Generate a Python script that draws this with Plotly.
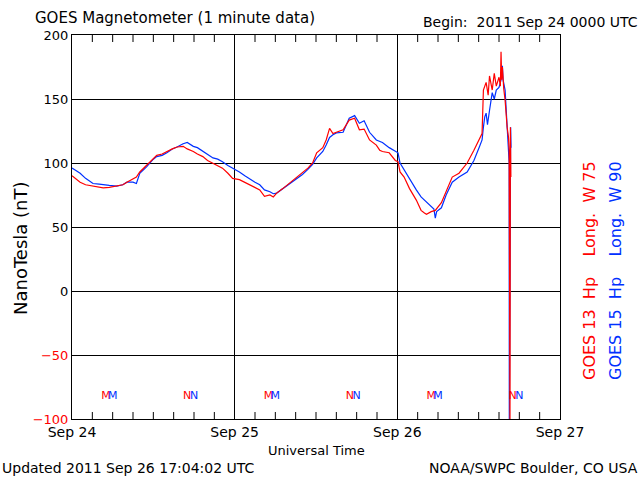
import plotly.graph_objects as go
import pandas as pd

# Hours since 2011 Sep 24 00:00 UT
g13_hours = [0, 0.5, 1.2, 2, 3, 4, 4.6, 5.5, 6.6, 7.5, 8.1, 9, 9.5, 10, 11, 12, 12.5, 13.3, 14, 14.8,
             15.5, 16.4, 17, 17.9, 18.5, 19.3, 20, 20.8, 21.5, 22.2, 23, 23.7, 24.7, 25.5, 26.2, 27, 27.7,
             28.4, 29.2, 29.7, 30.2, 31.1, 31.8, 32.5, 33.3, 34, 34.8, 35.5, 36.1, 37, 37.5, 38, 38.5, 39,
             40, 40.9, 41.7, 42.4, 43.1, 43.9, 44.9, 45.4, 45.8, 46.8, 47.7, 48.1, 48.4, 49, 49.8, 50.8,
             51.5, 52, 52.3, 53, 53.6, 54.5, 55.2, 56.1, 57.1, 58.3, 59.3, 60.1, 60.5, 60.7, 61.1, 61.4,
             61.6, 62, 62.3, 62.6, 63, 63.2, 63.3, 63.4, 63.5, 63.7, 63.9, 64.2, 64.4, 64.5, 64.55, 64.62,
             64.68, 64.75]
g13_values = [90, 88, 85, 83, 82, 81, 80.5, 81, 82, 83, 85, 87.5, 89, 93, 98.5, 104, 106, 107, 109, 111,
              112.5, 113, 111, 109, 107, 105, 102, 100, 98, 96, 92, 88, 87, 85, 83, 81, 79,
              74, 75, 73.5, 76.5, 80, 83, 86, 89, 92, 96, 100, 108, 112, 118, 127, 123, 124,
              126, 133.5, 135, 126, 126.5, 118, 114, 110, 109, 108, 102, 101, 93, 89, 80, 71,
              63, 61, 60, 62, 63, 69, 77.5, 89, 92, 100, 110, 118, 123, 157, 163, 153,
              168, 157, 170, 160, 167, 160, 187, 165, 175, 158, 149, 128, 120, 110, -105, -105,
              128, 89]

g15_hours = [0, 0.6, 1.2, 2, 3.1, 4, 4.6, 5.5, 6.6, 7.5, 8.1, 9, 9.5, 10, 11, 12, 12.5, 13.3, 14, 14.8,
             15.5, 16.4, 17, 17.9, 18.5, 19.3, 20, 20.8, 21.5, 22.2, 23, 23.7, 24.3, 24.7, 25.5, 26.2,
             27, 27.7, 28.4, 29.2, 29.7, 30.2, 31.1, 31.8, 32.5, 33.3, 34, 34.8, 35.5, 36.1, 37, 37.5,
             38, 38.5, 39, 40, 40.9, 41.7, 42.4, 43.1, 43.5, 43.9, 44.9, 45.4, 45.8, 46.8, 47.9, 48.1,
             48.4, 49, 49.8, 50.8, 51.5, 52.3, 53, 53.4, 53.6, 53.8, 54.5, 55.2, 56.1, 57.1, 58.3, 59.3,
             60.1, 60.5, 60.7, 60.9, 61.1, 61.3, 61.6, 62, 62.3, 62.6, 63, 63.3, 63.5, 63.6, 63.9, 64.2,
             64.4, 64.5, 64.52, 64.6, 64.65, 64.72, 64.78]
g15_values = [96, 94, 92, 88, 84, 83.5, 83, 82.5, 82, 83, 85, 85, 84, 92, 97, 103, 105, 106, 108, 111,
              112.5, 115, 116, 113, 112, 109, 107, 104, 103, 101, 98, 96, 94, 93, 90, 87.5,
              85, 83, 79, 77.5, 76, 76.5, 80, 82, 85, 88, 91, 95, 99, 104, 109, 114,
              120, 122, 123.5, 124, 135, 137, 131, 133, 128, 124, 118, 117, 116, 112, 109, 108,
              100, 94.5, 87, 79, 73.5, 69.5, 66, 64, 57, 62, 65, 75, 85, 89, 93, 102,
              112.5, 118, 128, 136, 139, 130, 141, 155, 150, 157, 159, 165, 176, 165, 157, 131,
              112, 100, -108, 73, 46, 128, 112]

# local midnight (M) / noon (N) markers
g13_marker_hours = [5, 17, 29, 41, 53, 65]
g13_marker_text = ["M", "N", "M", "N", "M", "N"]
g15_marker_hours = [6, 18, 30, 42, 54, 66]
g15_marker_text = ["M", "N", "M", "N", "M", "N"]
marker_level = -82

# 3-hourly minor tick positions (hours since start)
minor_tick_hours = [3, 6, 9, 12, 15, 18, 21, 27, 30, 33, 36, 39, 42, 45, 51, 54, 57, 60, 63, 66, 69]

Y_MIN, Y_MAX = -100, 200
y_tick_vals = [-100, -50, 0, 50, 100, 150, 200]
y_tick_text = ['<span style="color:#ff0000">−100</span>', '<span style="color:#ff0000">−50</span>',
               "0", "50", "100", "150", "200"]

start = pd.Timestamp("2011-09-24 00:00")
end = pd.Timestamp("2011-09-27 00:00")


def to_time(hours):
    return list(start + pd.to_timedelta(hours, unit="h"))


RED = "#ff0000"
BLUE = "#0030ff"
FONT = "DejaVu Sans"

fig = go.Figure()
fig.add_trace(go.Scatter(x=to_time(g15_hours), y=g15_values, mode="lines",
                         line=dict(color=BLUE, width=1.2), showlegend=False))
fig.add_trace(go.Scatter(x=to_time(g13_hours), y=g13_values, mode="lines",
                         line=dict(color=RED, width=1.2), showlegend=False))
fig.add_trace(go.Scatter(x=to_time(g13_marker_hours), y=[marker_level] * len(g13_marker_hours), mode="text",
                         text=g13_marker_text, textfont=dict(color=RED, size=11, family=FONT),
                         showlegend=False))
fig.add_trace(go.Scatter(x=to_time(g15_marker_hours), y=[marker_level] * len(g15_marker_hours), mode="text",
                         text=g15_marker_text, textfont=dict(color=BLUE, size=11, family=FONT),
                         showlegend=False))
# inward tick marks on bottom and top frame (half of each mark is clipped by the plot area)
for edge in (Y_MIN, Y_MAX):
    fig.add_trace(go.Scatter(x=to_time(minor_tick_hours), y=[edge] * len(minor_tick_hours), mode="markers",
                             marker=dict(symbol="line-ns", size=10, line=dict(color="black", width=1)),
                             showlegend=False, hoverinfo="skip"))

L, R, T, B = 72, 80, 35, 61
PW, PH = 640 - L - R, 480 - T - B


def px(x):
    return (x - L) / PW


def py(y):
    return (480 - B - y) / PH


fig.update_layout(
    width=640, height=480,
    margin=dict(l=L, r=R, t=T, b=B),
    plot_bgcolor="white", paper_bgcolor="white",
    font=dict(family=FONT, size=14),
    xaxis=dict(type="date", range=[start, end], tickmode="linear", tick0=start, dtick=86400000,
               tickformat="%b %d",
               showgrid=True, gridcolor="black", gridwidth=1,
               showline=True, linecolor="black", mirror=True,
               ticks="", tickfont=dict(size=14, color="black")),
    yaxis=dict(range=[Y_MIN, Y_MAX], tickvals=y_tick_vals, ticktext=y_tick_text,
               showgrid=True, gridcolor="black", gridwidth=1,
               showline=True, linecolor="black", mirror=True,
               ticks="", tickfont=dict(size=13, color="black"), zeroline=False),
    annotations=[
        dict(text="GOES Magnetometer (1 minute data)", x=px(33), y=py(18), xref="paper", yref="paper",
             xanchor="left", yanchor="middle", showarrow=False, font=dict(size=15, color="black")),
        dict(text="Begin:  2011 Sep 24 0000 UTC", x=px(640), y=py(22), xref="paper", yref="paper",
             xanchor="right", yanchor="middle", showarrow=False, font=dict(size=14, color="black")),
        dict(text="Universal Time", x=px(316), y=py(450), xref="paper", yref="paper",
             xanchor="center", yanchor="middle", showarrow=False, font=dict(size=13, color="black")),
        dict(text="Updated 2011 Sep 26 17:04:02 UTC", x=px(0), y=py(468), xref="paper", yref="paper",
             xanchor="left", yanchor="middle", showarrow=False, font=dict(size=14, color="black")),
        dict(text="NOAA/SWPC Boulder, CO USA", x=px(640), y=py(468), xref="paper", yref="paper",
             xanchor="right", yanchor="middle", showarrow=False, font=dict(size=14, color="black")),
        dict(text="NanoTesla (nT)", x=px(20), y=py(248), xref="paper", yref="paper",
             xanchor="center", yanchor="middle", showarrow=False, textangle=-90,
             font=dict(size=18, color="black")),
        dict(text="GOES 13\u00a0 Hp\u00a0\u00a0\u00a0 Long.\u00a0 W 75", x=px(589), y=py(271), xref="paper",
             yref="paper", xanchor="center", yanchor="middle", showarrow=False, textangle=-90,
             font=dict(size=16, color=RED)),
        dict(text="GOES 15\u00a0 Hp\u00a0\u00a0\u00a0 Long.\u00a0 W 90", x=px(615), y=py(271), xref="paper",
             yref="paper", xanchor="center", yanchor="middle", showarrow=False, textangle=-90,
             font=dict(size=16, color=BLUE)),
    ],
)

fig.write_html("out.html")
